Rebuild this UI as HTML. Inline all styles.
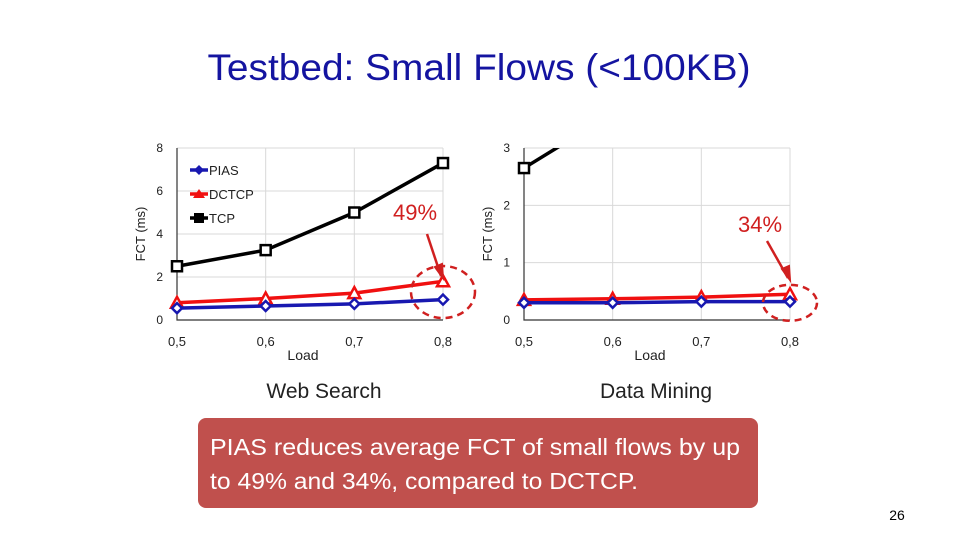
<!DOCTYPE html>
<html><head><meta charset="utf-8"><style>
body{margin:0;background:#fff;}
svg{display:block;font-family:"Liberation Sans",sans-serif;}
</style></head><body>
<svg id="s" width="960" height="540" viewBox="0 0 960 540">
<text x="479" y="80" text-anchor="middle" font-size="37" fill="#1414a0" textLength="543" lengthAdjust="spacingAndGlyphs">Testbed: Small Flows (&lt;100KB)</text>
<g id="c1"></g>
<g id="c2"></g>
<text x="324" y="398" text-anchor="middle" font-size="21" fill="#222">Web Search</text>
<text x="656" y="398" text-anchor="middle" font-size="21" fill="#222">Data Mining</text>
<rect x="198" y="418" width="560" height="90" rx="8" fill="#c0504d"/>
<text x="210" y="455" font-size="23" fill="#fff" textLength="530" lengthAdjust="spacingAndGlyphs">PIAS reduces average FCT of small flows by up</text>
<text x="210" y="489" font-size="23" fill="#fff" textLength="428" lengthAdjust="spacingAndGlyphs">to 49% and 34%, compared to DCTCP.</text>
<text x="897" y="520" text-anchor="middle" font-size="14" fill="#000">26</text>
</svg>
<script>
const loads=["0,5","0,6","0,7","0,8"];
const wsPIAS=[0.55,0.65,0.75,0.95];
const wsDCTCP=[0.8,1.0,1.25,1.8];
const wsTCP=[2.5,3.25,5.0,7.3];
const wsTicks=[0,2,4,6,8];
const dmPIAS=[0.3,0.3,0.32,0.32];
const dmDCTCP=[0.35,0.37,0.4,0.45];
const dmTCP=[2.65,3.6,4.6,5.6];
const dmTicks=[0,1,2,3];
const NS="http://www.w3.org/2000/svg";
function mk(p,t,a){const e=document.createElementNS(NS,t);for(const k in a)e.setAttribute(k,a[k]);p.appendChild(e);return e;}
function chart(g,id,x0,x1,y0,y1,ticks,series,ann){
  const ymax=ticks[ticks.length-1];
  const X=i=>x0+(x1-x0)*i/(loads.length-1);
  const Y=v=>y0-(y0-y1)*v/ymax;
  ticks.forEach(t=>{
    const l=mk(g,'line',{x1:x0,x2:x1,y1:Y(t),y2:Y(t),stroke:'#d9d9d9','stroke-width':1});
    
    
    const tx=mk(g,'text',{x:x0-14,y:Y(t)+4,'font-size':12,fill:'#222','text-anchor':'end'});
    tx.textContent=t;
    
    
  });
  loads.forEach((c,i)=>{
    const l=mk(g,'line',{x1:X(i),x2:X(i),y1:y1,y2:y0,stroke:'#d9d9d9','stroke-width':1});
    
    
    const tx=mk(g,'text',{x:X(i),y:y0+26,'font-size':13,fill:'#222','text-anchor':'middle'});
    tx.textContent=c;
    
    
  });
  const ax=mk(g,'path',{d:`M${x0} ${y1}V${y0}H${x1}`,stroke:'#333',fill:'none','stroke-width':1.2});
  
  
  const xl=mk(g,'text',{x:(x0+x1)/2-7,y:y0+40,'font-size':14,fill:'#222','text-anchor':'middle'});
  xl.textContent='Load';
  
  
  const yl=mk(g,'text',{transform:`translate(${x0-32},${(y0+y1)/2}) rotate(-90)`,'font-size':13,fill:'#222','text-anchor':'middle'});
  yl.textContent='FCT (ms)';
  
  
  const clip=mk(g,'clipPath',{id:id});
  mk(clip,'rect',{x:x0-10,y:y1,width:x1-x0+20,height:y0-y1+10});
  const sg=mk(g,'g',{'clip-path':`url(#${id})`});
  series.forEach(s=>{
    const pl=mk(sg,'polyline',{points:s.v.map((v,i)=>X(i)+','+Y(v)).join(' '),fill:'none',stroke:s.c,'stroke-width':3.5});
    
    
    s.v.forEach((v,i)=>{
      let m;
      if(s.m==='sq')m=mk(sg,'rect',{x:X(i)-5,y:Y(v)-5,width:10,height:10,fill:'#fff',stroke:s.c,'stroke-width':2.5});
      else if(s.m==='tri')m=mk(sg,'path',{d:`M${X(i)} ${Y(v)-6}L${X(i)+6} ${Y(v)+5}L${X(i)-6} ${Y(v)+5}Z`,fill:'#fff',stroke:s.c,'stroke-width':2.5});
      else m=mk(sg,'path',{d:`M${X(i)} ${Y(v)-5}L${X(i)+5} ${Y(v)}L${X(i)} ${Y(v)+5}L${X(i)-5} ${Y(v)}Z`,fill:'#fff',stroke:s.c,'stroke-width':2.5});
      
      
    });
  });
  const cx=X(3),cy=Y(ann.cv);
  const el=mk(g,'ellipse',{cx:cx,cy:cy,rx:ann.rx,ry:ann.ry,fill:'none',stroke:'#d02020','stroke-width':2.5,'stroke-dasharray':'7 5'});
  
  
  const ar=mk(g,'path',{d:`M${ann.ax} ${ann.ay}L${cx-2} ${ann.ey}`,stroke:'#d02020','stroke-width':2.5,fill:'none'});
  
  
  const hd=mk(g,'path',{d:`M${cx-8} ${ann.ey-9}L${cx} ${ann.ey+2}L${cx-1} ${ann.ey-12}Z`,fill:'#d02020',stroke:'#d02020','stroke-width':2});
  
  
  const at=mk(g,'text',{x:ann.tx,y:ann.ty,'font-size':22,fill:'#d02020','text-anchor':'middle'});
  at.textContent=ann.t;
  
  
}
const c1=document.getElementById('c1'),c2=document.getElementById('c2');
chart(c1,'clip1',177,443,320,148,wsTicks,[
 {n:'tcp',v:wsTCP,c:'#000',m:'sq'},{n:'dctcp',v:wsDCTCP,c:'#f01010',m:'tri'},{n:'pias',v:wsPIAS,c:'#1818b0',m:'dia'}],
 {cv:1.3,rx:32,ry:26,ax:427,ay:234,ey:276,tx:415,ty:220,t:'49%'});
chart(c2,'clip2',524,790,320,148,dmTicks,[
 {n:'tcp',v:dmTCP,c:'#000',m:'sq'},{n:'dctcp',v:dmDCTCP,c:'#f01010',m:'tri'},{n:'pias',v:dmPIAS,c:'#1818b0',m:'dia'}],
 {cv:0.3,rx:27,ry:18,ax:767,ay:241,ey:278,tx:760,ty:232,t:'34%'});
const lg=mk(c1,'g',{});


[['PIAS','#1818b0','dia',170],['DCTCP','#f01010','tri',194],['TCP','#000','sq',218]].forEach(([n,c,m,y])=>{
  const ln=mk(lg,'line',{x1:190,x2:208,y1:y,y2:y,stroke:c,'stroke-width':3.5});
  
  
  let mm;
  if(m==='dia')mm=mk(lg,'path',{d:`M199 ${y-5}L204 ${y}L199 ${y+5}L194 ${y}Z`,fill:c});
  else if(m==='tri')mm=mk(lg,'path',{d:`M199 ${y-5}L205 ${y+4}L193 ${y+4}Z`,fill:c});
  else mm=mk(lg,'rect',{x:194,y:y-5,width:10,height:10,fill:c});
  
  
  const t=mk(lg,'text',{x:209,y:y+5,'font-size':13,fill:'#222'});
  t.textContent=n;
  
  
});
</script>
</body></html>
